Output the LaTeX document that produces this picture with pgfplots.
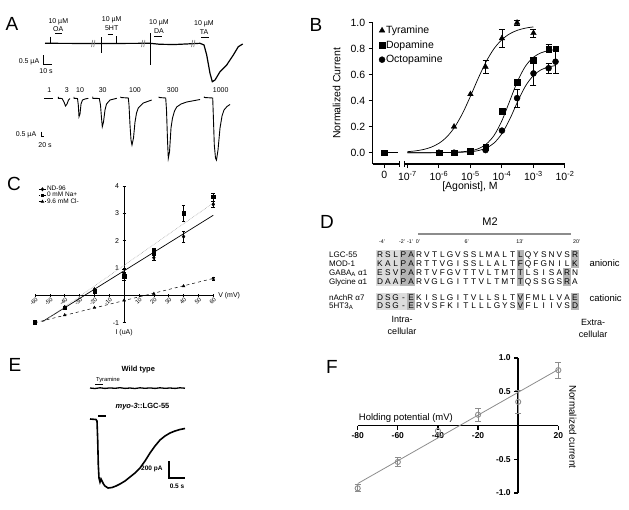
\documentclass[border=0pt]{standalone}
\usepackage{fontspec}
\setmainfont{Liberation Sans}
\usepackage{pgfplots}
\pgfplotsset{compat=1.18}
\newcommand{\fs}[1]{\fontsize{#1}{#1}\selectfont}
\definecolor{lightbox}{HTML}{DCDCDC}
\definecolor{darkbox}{HTML}{B4B4B4}
\definecolor{fgray}{HTML}{8C8C8C}

\begin{document}
\begin{tikzpicture}[x=1pt,y=1pt]
\useasboundingbox (0pt,0pt) rectangle (629pt,-509pt);

% ---------------- panel letters
\node[font=\fs{19}] at (12,-24) {A};
\node[font=\fs{19}] at (316,-25) {B};
\node[font=\fs{19}] at (14,-184) {C};
\node[font=\fs{19}] at (327,-222) {D};
\node[font=\fs{19}] at (15,-365) {E};
\node[font=\fs{19}] at (332,-367) {F};

% ---------------- overlay axis for traces (pixel coordinates)
\begin{axis}[at={(0pt,-509pt)}, anchor=south west, scale only axis,
  width=629pt, height=509pt, xmin=0, xmax=629, ymin=-509, ymax=0,
  hide axis, clip=false]
% A top trace
\addplot[black, line width=1.2pt] coordinates {(45,-43.3)(100,-43.5)(150,-43.3)(160,-44.3)(175,-44.5)(190,-43.8)(200,-43.3)(204,-45)(206.7,-55)(210,-73.3)(212.3,-81.7)(215,-80)(220,-71.7)(226.7,-65)(233.3,-55)(238.3,-46.7)(242.7,-44)};
\addplot[black, line width=0.7pt] coordinates {(150.7,-33)(150.7,-65)};
\addplot[black, line width=0.6pt] coordinates {(101,-37)(101,-53)};
\addplot[black, line width=0.6pt] coordinates {(50,-36.7)(50,-43)};
\addplot[black, line width=0.6pt] coordinates {(116.7,-36)(116.7,-43)};
% break marks
\addplot[gray, line width=0.7pt] coordinates {(91.5,-47)(92.7,-40)};
\addplot[gray, line width=0.7pt] coordinates {(93.7,-47)(94.9,-40)};
\addplot[gray, line width=0.7pt] coordinates {(141.5,-47)(142.7,-40)};
\addplot[gray, line width=0.7pt] coordinates {(143.7,-47)(144.9,-40)};
\addplot[gray, line width=0.7pt] coordinates {(191.5,-47)(192.7,-40)};
\addplot[gray, line width=0.7pt] coordinates {(193.7,-47)(194.9,-40)};
% drug bars
\addplot[black, line width=0.9pt] coordinates {(55,-33.3)(61.7,-33.3)};
\addplot[black, line width=0.9pt] coordinates {(107.7,-34.3)(113.3,-34.3)};
\addplot[black, line width=0.9pt] coordinates {(154,-36.7)(162.3,-36.7)};
\addplot[black, line width=0.9pt] coordinates {(201,-37.7)(209,-37.7)};
% scale bar A top
\addplot[black, line width=0.9pt] coordinates {(43.3,-55)(43.3,-64)(51.7,-64)};
% A bottom traces
\addplot[black, line width=0.9pt] coordinates {(44.3,-98.3)(53.3,-98.3)};
\addplot[black, line width=0.9pt] coordinates {(58.3,-96.8)(58.3,-98.3)(62,-98.5)(64,-102)(65.5,-106)(67,-104)(68.5,-100)(70,-98.5)};
\addplot[black, line width=0.9pt] coordinates {(74,-96.8)(74,-98.3)(77.5,-98.5)(78.3,-105)(79,-116.7)(80,-114)(81,-104)(82.5,-100)(85,-99)(88.3,-98.3)};
\addplot[black, line width=0.9pt] coordinates {(92.7,-96.5)(92.7,-98.3)(99.3,-98.5)(100.5,-105)(101.5,-118)(102.3,-126.7)(103.5,-122)(105,-110)(106.5,-104)(110,-100)(116.7,-98.3)};
\addplot[black, line width=0.9pt] coordinates {(120.7,-96.5)(120.7,-97.5)(128.3,-98)(129,-105)(130,-125)(131,-140)(132,-145)(133.5,-138)(135,-122)(136.5,-113)(138.3,-108)(143.3,-103)(151.7,-100)};
\addplot[black, line width=0.9pt] coordinates {(159,-96.5)(159,-97.5)(165.7,-98)(166.5,-110)(167.5,-140)(168.3,-158.3)(169.5,-152)(171,-128)(172.5,-118)(174.5,-111)(176.7,-107)(181,-104)(186.7,-102)(200,-99.5)};
\addplot[black, line width=0.9pt] coordinates {(204.3,-96.5)(204.3,-97.5)(212.7,-98)(213.3,-115)(214.3,-145)(215.5,-158)(216.5,-160)(218,-150)(220,-128)(222,-116)(224,-110)(227,-106.5)(230,-104.5)};
\addplot[black, line width=0.8pt] coordinates {(41,-131.7)(41,-136.7)(44,-136.7)};
% E traces
\addplot[black, line width=1.3pt] coordinates {(90,-388)(95,-388.5)(100,-387.8)(105,-388.4)(110,-387.9)(115,-388.3)(120,-387.7)(125,-388.4)(130,-388)(135,-388.5)(140,-387.8)(145,-388.3)(150,-387.9)(155,-388.4)(160,-387.8)(165,-388.3)(170,-388)(175,-388.4)(180,-387.8)(185,-388.2)};
\addplot[black, line width=1.1pt] coordinates {(95,-384.5)(103,-384.5)};
\addplot[black, line width=1.6pt] coordinates {(90,-419)(96,-419.5)(97,-421)(97.7,-440)(98.3,-465)(99,-478)(100,-482)(101,-479)(102,-481)(103.5,-484)(105,-486)(108,-488)(112,-487.5)(116,-486)(120,-484)(125,-481)(130,-477)(135,-473)(140,-468)(145,-461)(150,-453)(155,-446)(160,-440)(165,-436)(170,-433)(175,-431)(180,-429.5)(185,-428.5)};
\addplot[black, line width=1.1pt] coordinates {(98,-416)(106,-416)};
\addplot[black, line width=1.1pt] coordinates {(169,-461)(169,-478)(185,-478)};
\end{axis}

% ---------------- A texts
\begin{scope}[every node/.style={font=\fs{7}, inner sep=0}]
\node at (58.3,-21.7) {10 µM}; \node at (58.3,-29.3) {OA};
\node at (111.7,-20) {10 µM}; \node at (111.7,-28.3) {5HT};
\node at (159,-22.7) {10 µM}; \node at (159,-31) {DA};
\node at (204,-24) {10 µM}; \node at (204,-32.3) {TA};
\node at (29,-61.5) {0.5 µA};
\node at (46,-71) {10 s};
\node at (49.3,-90) {1};
\node at (66.7,-90) {3};
\node at (80,-90) {10};
\node at (102.7,-90) {30};
\node at (135,-90) {100};
\node at (172.7,-90) {300};
\node at (220.7,-90) {1000};
\node at (26,-135) {0.5 µA};
\node at (45,-145) {20 s};
\end{scope}

% ---------------- E texts
\node[font=\bfseries\fs{7.5}] at (138.3,-370) {Wild type};
\node[font=\fs{5.8}] at (108,-380) {Tyramine};
\node[font=\bfseries\fs{7.5}] at (142.5,-407) {\textit{myo-3}::LGC-55};
\node[font=\bfseries\fs{6.5}, anchor=east] at (166,-469) {200 pA};
\node[font=\bfseries\fs{6.5}] at (177,-486) {0.5 s};

% ---------------- B
\begin{axis}[at={(372.7pt,-164pt)}, anchor=south west, scale only axis,
  width=192.3pt, height=141.3pt,
  xmin=-8.1, xmax=-2, ymin=-0.087, ymax=1.0,
  axis x line*=bottom, axis y line*=left,
  axis line style={line width=1.1pt},
  tick align=outside, major tick length=4pt,
  tick style={black, line width=1pt},
  xtick={-7.73,-7,-6,-5,-4,-3,-2},
  xticklabels={0,10\textsuperscript{-7},10\textsuperscript{-6},10\textsuperscript{-5},10\textsuperscript{-4},10\textsuperscript{-3},10\textsuperscript{-2}},
  ytick={0,0.2,0.4,0.6,0.8,1},
  yticklabels={0.0,0.2,0.4,0.6,0.8,1.0},
  ticklabel style={font=\fs{10.5}},
  ylabel={Normalized Current},
  ylabel style={at={(axis description cs:-0.187,0.5)}, anchor=center, font=\fs{10.5}},
  xlabel={[Agonist], M},
  xlabel style={at={(axis description cs:0.506,-0.16)}, anchor=center, font=\fs{10.5}},
  legend style={at={(axis cs:-8.0,1.0)}, anchor=north west, draw=none, fill=none,
    font=\fs{10.5}, row sep=3.5pt, nodes={inner sep=1pt},
    /tikz/every even column/.append style={column sep=7pt}},
  legend cell align=left,
  clip=false]
\addplot[black, only marks, mark=triangle*, mark size=3.2pt,
  error bars/.cd, y dir=both, y explicit,
  error bar style={black, line width=0.8pt},
  error mark options={rotate=90, mark size=3pt, black, line width=0.8pt}]
  coordinates {(-5.52,0.2) (-5,0.45) (-4.52,0.66) +- (0,0.05) (-4,0.88) +- (0,0.07) (-3.52,1.0) +- (0,0.02) (-3,0.92) +- (0,0.03)};
\addlegendentry{Tyramine}
\addplot[black, only marks, mark=square*, mark size=2.8pt,
  error bars/.cd, y dir=both, y explicit,
  error bar style={black, line width=0.8pt},
  error mark options={rotate=90, mark size=3pt, black, line width=0.8pt}]
  coordinates {(-7.73,0) (-6,0) (-5.52,0) (-5,0.01) (-4.52,0.04) (-4,0.32) (-3.52,0.54) (-3,0.71) +- (0,0.02) (-2.52,0.8) +- (0,0.03) (-2.3,0.8) +- (0,0.02)};
\addlegendentry{Dopamine}
\addplot[black, only marks, mark=*, mark size=3pt,
  error bars/.cd, y dir=both, y explicit,
  error bar style={black, line width=0.8pt},
  error mark options={rotate=90, mark size=3pt, black, line width=0.8pt}]
  coordinates {(-6,0) (-5.52,0) (-5,0.01) (-4.52,0.02) (-4,0.17) (-3.52,0.42) +- (0,0.07) (-3,0.61) +- (0,0.09) (-2.52,0.65) +- (0,0.04) (-2.3,0.7) +- (0,0.09)};
\addlegendentry{Octopamine}
% fits
\addplot[black, line width=0.7pt, smooth, forget plot] coordinates {(-7,0.0077)(-6.75,0.0137)(-6.5,0.024)(-6.25,0.0419)(-6,0.0721)(-5.75,0.1213)(-5.5,0.1968)(-5.25,0.3026)(-5,0.4338)(-4.75,0.5738)(-4.5,0.701)(-4.25,0.8007)(-4,0.870)(-3.75,0.9152)(-3.5,0.9425)(-3.25,0.9585)(-3,0.9678)};
\addplot[black, line width=0.7pt, smooth, forget plot] coordinates {(-7,0)(-6,0.0006)(-5.5,0.0028)(-5,0.014)(-4.75,0.0306)(-4.5,0.0655)(-4.25,0.133)(-4,0.247)(-3.75,0.4)(-3.5,0.553)(-3.25,0.667)(-3,0.7346)(-2.75,0.7694)(-2.5,0.786)(-2.3,0.7926)};
\addplot[black, line width=0.7pt, smooth, forget plot] coordinates {(-7,0)(-6,0.0003)(-5.5,0.0015)(-5,0.0074)(-4.75,0.0163)(-4.5,0.0354)(-4.25,0.0745)(-4,0.147)(-3.75,0.259)(-3.5,0.394)(-3.25,0.514)(-3,0.594)(-2.75,0.6388)(-2.5,0.661)(-2.3,0.6699)};
\addplot[black, line width=0.7pt, forget plot] coordinates {(-7.73,0)(-7.3,0)};
\end{axis}
% axis break
\fill[white] (399.3pt,-161.5pt) rectangle (404.3pt,-166.5pt);
\draw[black, line width=0.9pt] (399.3pt,-161pt) -- (399.3pt,-167pt);
\draw[black, line width=0.9pt] (404.3pt,-161pt) -- (404.3pt,-167pt);

% ---------------- C
\begin{axis}[at={(35pt,-322.7pt)}, anchor=south west, scale only axis,
  width=178.3pt, height=136.7pt,
  xmin=-60, xmax=60, ymin=-1, ymax=4,
  axis lines=middle, axis line style={-, line width=0.8pt},
  tick style={black, line width=0.6pt}, major tick length=3pt,
  xtick={-60,-50,-40,-30,-20,-10,10,20,30,40,50,60},
  xticklabels={-60,-50,-40,-30,-20,-10,10,20,30,40,50,60},
  ytick={-1,1,2,3,4},
  yticklabels={-1,1,2,3,4},
  xticklabel style={rotate=45, anchor=east, font=\fs{5.8}, inner sep=0.3pt, yshift=-2.5pt, xshift=0.5pt},
  yticklabel style={font=\fs{7}},
  legend style={at={(axis cs:-59.7,4.1)}, anchor=north west, draw=none, fill=none,
    font=\fs{6.5}, row sep=-1.5pt, nodes={inner sep=0.8pt}},
  legend cell align=left,
  legend image code/.code={\draw[mark repeat=2,mark phase=2,#1] plot coordinates {(0pt,0pt) (3.5pt,0pt) (7pt,0pt)};},
  clip=false]
\addlegendimage{black, line width=0.6pt, mark=diamond*, mark size=1.6pt}
\addlegendentry{ND-96}
\addlegendimage{black, line width=0.6pt, densely dotted, mark=square*, mark size=1.3pt, mark options={solid}}
\addlegendentry{0 mM Na+}
\addlegendimage{black, line width=0.6pt, dashed, mark=triangle*, mark size=1.5pt, mark options={solid}}
\addlegendentry{9.6 mM Cl-}
% fits
\addplot[black, line width=0.7pt, forget plot] coordinates {(-55,-0.96)(60,2.93)};
\addplot[gray!70, line width=0.6pt, densely dotted, forget plot] coordinates {(-54,-0.95)(60,3.38)};
\addplot[black, line width=0.5pt, dashed, forget plot] coordinates {(-60,-1.0)(60,0.62)};
% data
\addplot[black, only marks, mark=square*, mark size=1.7pt, forget plot,
  error bars/.cd, y dir=both, y explicit,
  error bar style={black, line width=0.5pt},
  error mark options={rotate=90, mark size=1.8pt, black}]
  coordinates {(-60,-0.98) (-40,-0.45) (-20,0.15) (0,0.7) +- (0,0.15) (20,1.62) +- (0,0.1) (40,3.0) +- (0,0.3) (60,3.6) +- (0,0.15)};
\addplot[black, only marks, mark=diamond*, mark size=1.9pt, forget plot,
  error bars/.cd, y dir=both, y explicit,
  error bar style={black, line width=0.5pt},
  error mark options={rotate=90, mark size=1.8pt, black}]
  coordinates {(-40,-0.43) (-20,0.22) (0,0.8) +- (0,0.15) (20,1.38) +- (0,0.08) (40,2.15) +- (0,0.2) (60,3.33) +- (0,0.1)};
\addplot[black, only marks, mark=triangle*, mark size=1.6pt, forget plot,
  error bars/.cd, y dir=both, y explicit,
  error bar style={black, line width=0.5pt},
  error mark options={rotate=90, mark size=1.5pt, black}]
  coordinates {(-40,-0.72) (-20,-0.45) (0,-0.18) (20,0.06) (40,0.34) (60,0.61) +- (0,0.05)};
\node[font=\fs{7}, anchor=west] at (axis cs:61,0) {V (mV)};
\node[font=\fs{7}, anchor=north] at (axis cs:0,-1.1) {I (uA)};
\end{axis}

% ---------------- D
\node[font=\fs{11}] at (490,-221.7) {M2};
\draw[fgray, line width=2.5pt] (418,-234) -- (571,-234);
% highlight boxes
\fill[lightbox] (376,-249.5) rectangle (399.5,-286);
\fill[darkbox] (399.5,-249.5) rectangle (415.1,-286);
\fill[lightbox] (376,-292.5) rectangle (407.3,-310);
\fill[darkbox] (407.3,-292.5) rectangle (415.1,-310);
\fill[darkbox] (516.5,-249.5) rectangle (524.3,-286);
\fill[darkbox] (516.5,-292.5) rectangle (524.3,-310);
\fill[darkbox] (571.1,-249.5) rectangle (578.9,-268);
\fill[darkbox] (563.3,-268) rectangle (571.1,-286);
\fill[darkbox] (571.1,-292.5) rectangle (578.9,-310);
% position labels
\begin{scope}[every node/.style={font=\fs{5.3}, inner sep=0, anchor=base}]
\node at (382,-243.5) {-4'};
\node at (402,-243.5) {-2'};
\node at (410,-243.5) {-1'};
\node at (418,-243.5) {0'};
\node at (466.7,-243.5) {6'};
\node at (520,-243.5) {13'};
\node at (576.7,-243.5) {20'};
\end{scope}
% names
\begin{scope}[every node/.style={font=\fs{8}, inner sep=0, anchor=base west}]
\node at (329,-257) {LGC-55};
\node at (329,-266.5) {MOD-1};
\node at (329,-275.5) {GABA\textsubscript{A} α1};
\node at (329,-284.5) {Glycine α1};
\node at (329,-300) {nAchR α7};
\node at (329,-308.5) {5HT3\textsubscript{A}};
\end{scope}
% sequences
\foreach \yy/\seq in {257/{R,S,L,P,A,R,V,T,L,G,V,S,S,L,M,A,L,T,L,Q,Y,S,N,V,S,R},
  266.5/{K,A,L,P,A,R,T,T,V,G,I,S,S,L,L,A,L,T,F,Q,F,G,N,I,L,K},
  275.5/{E,S,V,P,A,R,T,V,F,G,V,T,T,V,L,T,M,T,T,L,S,I,S,A,R,N},
  284.5/{D,A,A,P,A,R,V,G,L,G,I,T,T,V,L,T,M,T,T,Q,S,S,G,S,R,A},
  300/{D,S,G,-,E,K,I,S,L,G,I,T,V,L,L,S,L,T,V,F,M,L,L,V,A,E},
  308.5/{D,S,G,-,E,R,V,S,F,K,I,T,L,L,L,G,Y,S,V,F,L,I,I,V,S,D}}{
  \foreach \c [count=\i] in \seq {
    \node[font=\fs{8.3}, inner sep=0, anchor=base] at ({380+(\i-1)*7.8},-\yy) {\c};
  }
}
\node[font=\fs{9.5}, anchor=west] at (586,-263) {anionic};
\node[font=\fs{9.5}, anchor=west] at (586,-298) {cationic};
\node[font=\fs{9}] at (402,-319) {Intra-};
\node[font=\fs{9}] at (402,-331) {cellular};
\node[font=\fs{9}] at (593,-322) {Extra-};
\node[font=\fs{9}] at (593,-334) {cellular};

% ---------------- F
\begin{axis}[at={(357.7pt,-493pt)}, anchor=south west, scale only axis,
  width=200.6pt, height=135pt,
  xmin=-80, xmax=20, ymin=-1, ymax=1,
  axis lines=middle, axis line style={-, line width=1.4pt},
  tick style={black, line width=1.2pt}, major tick length=4pt, tick align=outside,
  xtick={-80,-60,-40,-20,20}, xticklabels={-80,-60,-40,-20,20},
  ytick={-1,-0.5,0.5,1}, yticklabels={-1.0,-0.5,0.5,1.0},
  ticklabel style={font=\bfseries\fs{8.5}},
  clip=false]
\addplot[fgray, line width=0.8pt] coordinates {(-80,-0.86)(20,0.83)};
\addplot[fgray, only marks, mark=o, mark size=2.6pt, mark options={line width=0.9pt, fill=white},
  error bars/.cd, y dir=both, y explicit,
  error bar style={fgray, line width=0.9pt},
  error mark options={rotate=90, mark size=3pt, fgray, line width=0.9pt}]
  coordinates {(-80,-0.93) +- (0,0.05) (-60,-0.54) +- (0,0.07) (-40,-0.08) (-20,0.16) +- (0,0.1) (0,0.35) +- (0,0.17) (20,0.82) +- (0,0.12)};
\node[font=\fs{9.5}, anchor=south west, inner sep=1pt] at (axis cs:-80,0.02) {Holding potential (mV)};
\node[font=\fs{9.8}, rotate=-90] at (axis cs:27.3,-0.02) {Normalized current};
\end{axis}
\end{tikzpicture}
\end{document}
